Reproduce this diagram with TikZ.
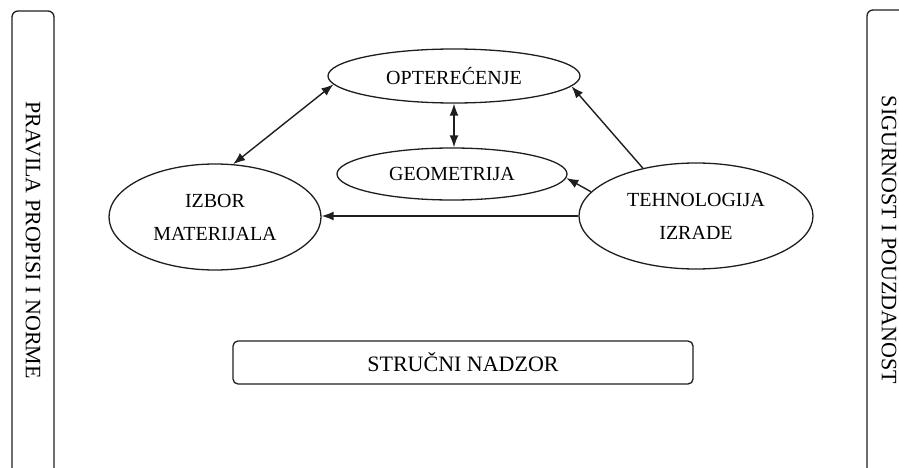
\documentclass[tikz,border=0pt]{standalone}
\usepackage{fontspec}
\setmainfont{Liberation Serif}
\usetikzlibrary{shapes.geometric,arrows.meta}
\definecolor{ln}{HTML}{1E1E1E}
\tikzset{
  oval/.style={ellipse,draw=ln,line width=1.3pt,inner sep=0pt,align=center,
    font=\fontsize{20}{33}\selectfont},
  sidebox/.style={draw=ln,line width=1.3pt,rounded corners=6pt},
  sidetext/.style={rotate=-90,font=\fontsize{22}{26}\selectfont},
  conn/.style={draw=ln,line width=1.4pt,-{Latex[length=12pt,width=9pt]}},
  bconn/.style={draw=ln,line width=1.4pt,{Latex[length=12pt,width=9pt]}-{Latex[length=12pt,width=9pt]}},
}
\begin{document}
\begin{tikzpicture}[x=1pt,y=-1pt]
\useasboundingbox (0,0) rectangle (899,468);
\clip (0,0) rectangle (899,468);
% side boxes
\draw[sidebox] (12,11) rectangle (54,480);
\node[sidetext] (left) at (33,240) {PRAVILA PROPISI I NORME};
\draw[sidebox] (867,10) rectangle (920,480);
\node[sidetext] (right) at (889,240) {SIGURNOST I POUZDANOST};
% ellipses
\node[oval,minimum width=252pt,minimum height=54pt] (opt) at (454,76) {OPTEREĆENJE};
\node[oval,minimum width=230pt,minimum height=52pt] (geo) at (452,174) {GEOMETRIJA};
\node[oval,minimum width=212pt,minimum height=106pt] (izb) at (215,217) {IZBOR\\MATERIJALA};
\node[oval,minimum width=234pt,minimum height=106pt] (teh) at (696,216) {TEHNOLOGIJA\\IZRADE};
% bottom box
\node[draw=ln,line width=1.3pt,rounded corners=5pt,minimum width=460pt,minimum height=43pt,
  font=\fontsize{22}{26}\selectfont] (nad) at (463,362.5) {STRUČNI NADZOR};
% connectors
\draw[bconn] (izb.71) -- (opt.184);
\draw[bconn] (opt.south) -- (opt.south |- geo.north);
\draw[conn] (teh.138) -- (opt.355.7);
\draw[conn] (teh.167.8) -- (geo.358);
\draw[conn] (teh.west) -- (teh.west -| izb.east);
\end{tikzpicture}
\end{document}
